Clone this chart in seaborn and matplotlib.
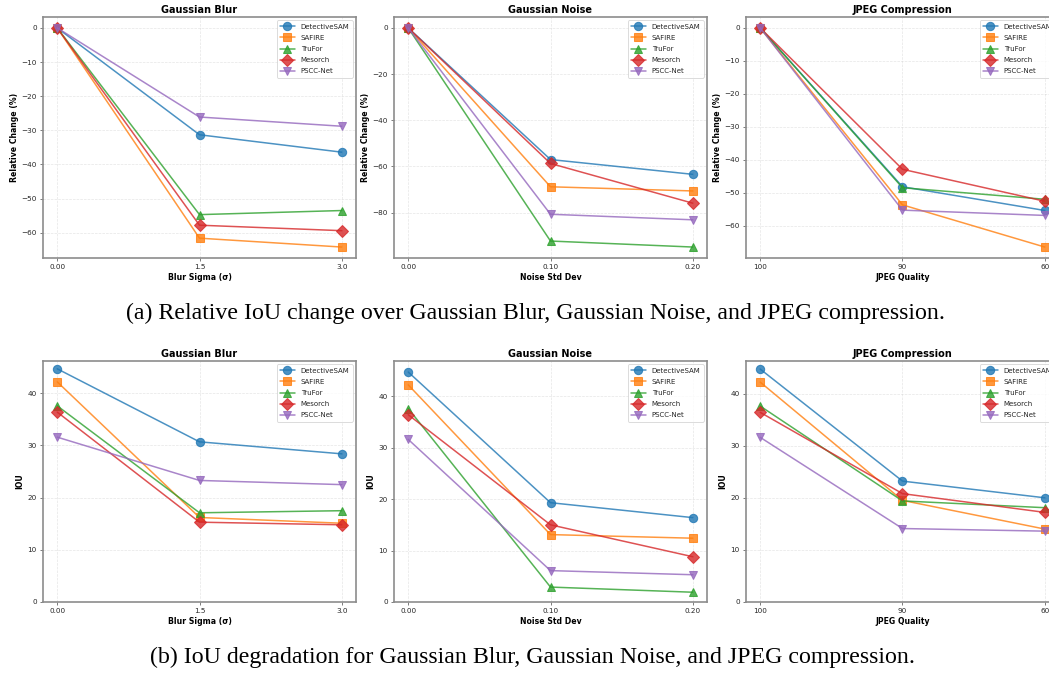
import pandas as pd
import seaborn as sns
import matplotlib.pyplot as plt

methods = ["DetectiveSAM", "SAFIRE", "TruFor", "Mesorch", "PSCC-Net"]
markers = ["o", "s", "^", "D", "v"]

titles = ["Gaussian Blur", "Gaussian Noise", "JPEG Compression"]
xlabels = ["Blur Sigma (σ)", "Noise Std Dev", "JPEG Quality"]
xticklabels = [["0.00", "1.5", "3.0"], ["0.00", "0.10", "0.20"], ["100", "90", "60"]]

# relative IoU change (%)
rel_blur = [[0, -31.3, -36.4], [0, -61.6, -64.2], [0, -54.7, -53.5], [0, -57.8, -59.4], [0, -26.1, -28.8]]
rel_noise = [[0, -57.0, -63.4], [0, -68.8, -70.6], [0, -92.3, -94.9], [0, -58.7, -75.9], [0, -80.7, -83.1]]
rel_jpeg = [[0, -48.2, -55.4], [0, -53.7, -66.5], [0, -48.5, -52.0], [0, -42.9, -52.6], [0, -55.3, -56.9]]

# absolute IoU
iou_blur = [[44.7, 30.7, 28.4], [42.2, 16.2, 15.1], [37.6, 17.1, 17.5], [36.4, 15.3, 14.8], [31.6, 23.3, 22.5]]
iou_noise = [[44.7, 19.3, 16.4], [42.2, 13.1, 12.4], [37.6, 2.9, 1.9], [36.4, 15.0, 8.8], [31.6, 6.1, 5.3]]
iou_jpeg = [[44.7, 23.2, 20.0], [42.2, 19.5, 14.0], [37.6, 19.4, 18.1], [36.4, 20.8, 17.2], [31.6, 14.1, 13.6]]

captions = ["(a) Relative IoU change over Gaussian Blur, Gaussian Noise, and JPEG compression.",
            "(b) IoU degradation for Gaussian Blur, Gaussian Noise, and JPEG compression."]

sns.set_style("whitegrid")
plt.rcParams["font.family"] = ["DejaVu Sans"]

W, H = 1049, 673
fig = plt.figure(figsize=(W / 100, H / 100), dpi=100)
palette = sns.color_palette("tab10", 5)


def make_df(series):
    rows = []
    for m, vals in zip(methods, series):
        for i, v in enumerate(vals):
            rows.append({"pos": i, "value": v, "method": m})
    return pd.DataFrame(rows)


def draw(ax, series, col, ylabel, zero_bottom):
    df = make_df(series)
    sns.lineplot(data=df, x="pos", y="value", hue="method", style="method",
                 hue_order=methods, style_order=methods, palette=palette,
                 markers=markers, dashes=False, markersize=6, linewidth=1.1,
                 alpha=0.8, legend=False, ax=ax)
    for line, m in zip(ax.lines, methods):
        line.set_markeredgecolor(line.get_color())
        line.set_label(m)
    ax.set_xticks([0, 1, 2])
    ax.set_xticklabels(xticklabels[col])
    ax.set_xlim(-0.1, 2.1)
    if zero_bottom:
        ax.set_ylim(bottom=0)
    ax.set_title(titles[col], fontsize=7, fontweight="bold", pad=3, color="black")
    ax.set_xlabel(xlabels[col], fontsize=5.6, fontweight="bold", labelpad=2, color="black")
    ax.set_ylabel(ylabel, fontsize=5.6, fontweight="bold", labelpad=2, color="black")
    ax.tick_params(axis="both", labelsize=5.2, length=2.5, width=0.6, pad=2,
                   bottom=True, left=True, color="0.4")
    ax.grid(True, linestyle="--", linewidth=0.5, alpha=0.5)
    for s in ax.spines.values():
        s.set_color("0.55")
        s.set_linewidth(1.2)
    leg = ax.legend(loc="upper right", fontsize=5, frameon=True, markerscale=1.0,
                    handlelength=2.2, borderpad=0.45, labelspacing=0.75)
    leg.get_frame().set_linewidth(0.6)


lefts = [43, 394, 746]
axw = 313
top_rows = [(17, 258), (361, 602)]
groups = [[rel_blur, rel_noise, rel_jpeg], [iou_blur, iou_noise, iou_jpeg]]
ylabels = ["Relative Change (%)", "IOU"]

for r, (ytop, ybot) in enumerate(top_rows):
    for c in range(3):
        ax = fig.add_axes([lefts[c] / W, 1 - ybot / H, axw / W, (ybot - ytop) / H])
        draw(ax, groups[r][c], c, ylabels[r], zero_bottom=(r == 1))

fig.text(535 / W, 1 - 313 / H, captions[0], ha="center", va="center",
         fontsize=17.2, family="Liberation Serif", color="black")
fig.text(532 / W, 1 - 657 / H, captions[1], ha="center", va="center",
         fontsize=17.2, family="Liberation Serif", color="black")

fig.savefig("out.png", dpi=100)
